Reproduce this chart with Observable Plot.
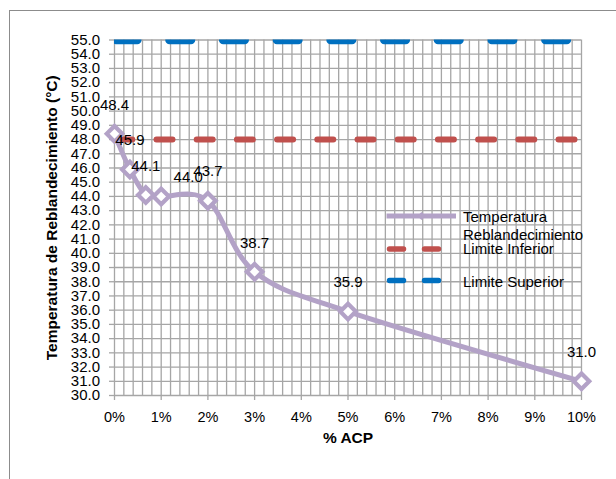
<!DOCTYPE html>
<html>
<head>
<meta charset="utf-8">
<script src="https://cdn.jsdelivr.net/npm/d3@7"></script>
<script src="https://cdn.jsdelivr.net/npm/@observablehq/plot@0.6"></script>
<style>
  html, body { margin: 0; padding: 0; background: #fff; overflow: hidden; }
  #wrap { position: relative; width: 616px; height: 479px; overflow: hidden; }
  #border { position: absolute; left: 9px; top: 10px; width: 700px; height: 600px; border: 1.5px solid #8c8c8c; box-sizing: border-box; }
  #chart { position: absolute; left: 0; top: 0; }
</style>
</head>
<body>
<div id="wrap"><div id="border"></div><div id="chart"></div></div>
<script>
// Softening temperature vs. % ACP, with lower and upper specification limits
const acp = [0, 0.33, 0.67, 1, 2, 3, 5, 10];               // % ACP
const temperatura = [48.4, 45.9, 44.1, 44.0, 43.7, 38.7, 35.9, 31.0]; // °C
const limiteInferior = 48.0;
const limiteSuperior = 55.0;
const seriesNames = ["Temperatura Reblandecimiento", "Limite Inferior", "Limite Superior"];
const xTicks = [0, 1, 2, 3, 4, 5, 6, 7, 8, 9, 10];
const yTicks = [30, 31, 32, 33, 34, 35, 36, 37, 38, 39, 40, 41, 42, 43, 44, 45, 46, 47, 48, 49, 50, 51, 52, 53, 54, 55];
const xMinorStep = 0.2;
const xLabel = "% ACP";
const yLabel = "Temperatura de Reblandecimiento (°C)";

const colors = { temp: "#b3a2c7", inf: "#c0504d", sup: "#0070c0", grid: "#a6a6a6" };

const points = acp.map((x, i) => ({ x, y: temperatura[i] }));
const xExtent = [xTicks[0], xTicks[xTicks.length - 1]];
const xMinor = d3.range(xExtent[0], xExtent[1] + 1e-9, xMinorStep);

const chart = Plot.plot({
  width: 616,
  height: 479,
  marginLeft: 114,
  marginRight: 35,
  marginTop: 39.5,
  marginBottom: 84,
  style: { fontFamily: "'Liberation Sans', Arial, sans-serif", fontSize: "15px", background: "transparent", color: "#000" },
  x: { domain: xExtent },
  y: { domain: [yTicks[0], yTicks[yTicks.length - 1]] },
  marks: [
    Plot.gridX(xMinor, { stroke: colors.grid, strokeOpacity: 1, strokeWidth: 1.3 }),
    Plot.gridY(yTicks, { stroke: colors.grid, strokeOpacity: 1, strokeWidth: 1.3 }),
    Plot.axisY(yTicks, {
      tickSize: 5, tickPadding: 9.5, stroke: colors.grid, strokeWidth: 1.3,
      tickFormat: d => d.toFixed(1), fontSize: 15, label: null
    }),
    Plot.axisX(xTicks, {
      tickSize: 5, tickPadding: 11, stroke: colors.grid, strokeWidth: 1.3,
      tickFormat: d => d + "%", fontSize: 14.5, label: null
    }),
    // specification limits
    Plot.line(xExtent, {
      x: d => d, y: () => limiteInferior, stroke: colors.inf, strokeWidth: 6,
      strokeLinecap: "round", strokeDasharray: "16,24.2", strokeDashoffset: -1.8
    }),
    Plot.line(xExtent, {
      x: d => d, y: () => limiteSuperior, stroke: colors.sup, strokeWidth: 8.5, clip: true,
      strokeLinecap: "round", strokeDasharray: "21.5,32.2", strokeDashoffset: -1.3
    }),
    // measured softening temperature (smoothed line with diamond markers)
    Plot.line(points, { x: "x", y: "y", stroke: colors.temp, strokeWidth: 5, curve: "cardinal" }),
    Plot.dot(points, { x: "x", y: "y", symbol: "diamond2", r: 7, fill: "#fff", stroke: colors.temp, strokeWidth: 4.2 }),
    // value labels
    Plot.text(points, {
      filter: (d, i) => i !== 3, x: "x", y: "y", text: d => d.y.toFixed(1),
      dy: -29, fontSize: 15, fill: "#000"
    }),
    Plot.text(points, {
      filter: (d, i) => i === 3, x: "x", y: "y", text: d => d.y.toFixed(1),
      dy: -19, dx: 27, fontSize: 15, fill: "#000"
    }),
    // axis titles
    Plot.text([yLabel], {
      frameAnchor: "left", textAnchor: "middle", dx: -62, rotate: -90,
      fontWeight: "bold", fontSize: 15.5, fill: "#000"
    }),
    Plot.text([xLabel], {
      frameAnchor: "bottom", dy: 47, fontWeight: "bold", fontSize: 15.5, fill: "#000"
    })
  ]
});

document.getElementById("chart").appendChild(chart);

// legend drawn inside the plotting area
const svg = d3.select(chart);
const lg = svg.append("g")
  .attr("font-family", "'Liberation Sans', Arial, sans-serif")
  .attr("font-size", 15)
  .attr("text-anchor", "start");
const lx0 = 386.5, lx1 = 456, tx = 463;

lg.append("line").attr("x1", lx0).attr("x2", lx1).attr("y1", 216).attr("y2", 216)
  .attr("stroke", colors.temp).attr("stroke-width", 5);
lg.append("path").attr("transform", "translate(421.5,216)")
  .attr("d", d3.symbol(d3.symbolDiamond2, 40)()).attr("fill", colors.temp);
lg.append("text").attr("x", tx).attr("y", 221.5).text(seriesNames[0].split(" ")[0]);
lg.append("text").attr("x", tx).attr("y", 239.5).text(seriesNames[0].split(" ")[1]);

[[seriesNames[1], colors.inf, 249, 254], [seriesNames[2], colors.sup, 280.5, 286.5]].forEach(([name, c, y, ty]) => {
  lg.append("line").attr("x1", lx0 + 3).attr("x2", lx1 - 11).attr("y1", y).attr("y2", y)
    .attr("stroke", c).attr("stroke-width", 5.5).attr("stroke-linecap", "round")
    .attr("stroke-dasharray", "14,21");
  lg.append("text").attr("x", tx).attr("y", ty).text(name);
});
</script>
</body>
</html>
